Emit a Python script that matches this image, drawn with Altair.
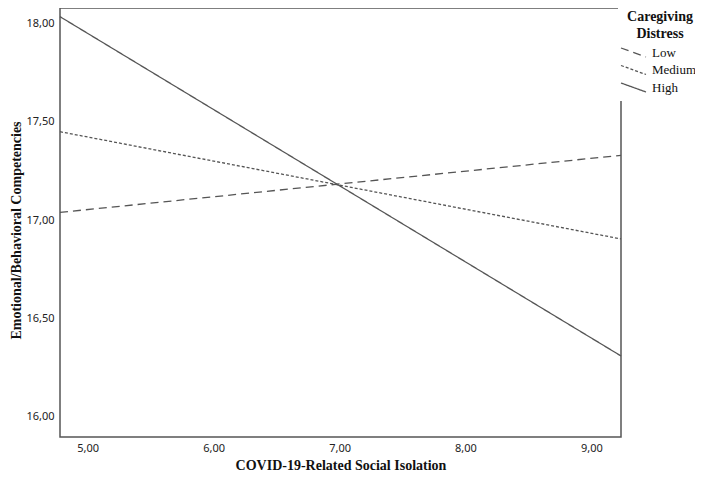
import altair as alt
import pandas as pd

groups = ["Low", "Medium", "High"]
isolation = [4.78, 9.235]
low_vals = [17.04, 17.33]
medium_vals = [17.45, 16.905]
high_vals = [18.035, 16.31]

x_ticks = [5, 6, 7, 8, 9]
y_ticks = [16.0, 16.5, 17.0, 17.5, 18.0]

rows = []
for g, vals in zip(groups, [low_vals, medium_vals, high_vals]):
    for x, y in zip(isolation, vals):
        rows.append({"iso": x, "comp": y, "group": g})
df = pd.DataFrame(rows)

fmt = "replace(format(datum.value, '.2f'), '.', ',')"

chart = alt.Chart(df).mark_line(color="#555555", strokeWidth=1.3).encode(
    x=alt.X(
        "iso:Q",
        scale=alt.Scale(domain=[4.78, 9.235], nice=False, zero=False),
        axis=alt.Axis(
            values=x_ticks, labelExpr=fmt, title="COVID-19-Related Social Isolation",
            titleFont="Liberation Serif", titleFontSize=14, titleFontWeight="bold",
            titleColor="#111111", titleY=28, titleBaseline="middle",
            labelFont="Noto Sans", labelFontSize=11, labelColor="#222222",
            labelPadding=5, ticks=False, domain=False, grid=False,
        ),
    ),
    y=alt.Y(
        "comp:Q",
        scale=alt.Scale(domain=[15.898, 18.079], nice=False, zero=False),
        axis=alt.Axis(
            values=y_ticks, labelExpr=fmt, title="Emotional/Behavioral Competencies",
            titleFont="Liberation Serif", titleFontSize=14, titleFontWeight="bold",
            titleColor="#111111", titleX=-44, titleY=222, titleBaseline="middle",
            titleAngle=270,
            labelFont="Noto Sans", labelFontSize=11, labelColor="#222222",
            labelPadding=6, ticks=False, domain=False, grid=False,
        ),
    ),
    strokeDash=alt.StrokeDash(
        "group:N",
        scale=alt.Scale(domain=groups, range=[[8, 5], [3, 2], [1, 0]]),
        legend=alt.Legend(
            title=["Caregiving", "Distress"],
            titleFont="Liberation Serif", titleFontSize=14, titleFontWeight="bold",
            titleColor="#111111", titleAnchor="middle", titleAlign="center",
            titleLineHeight=17, titlePadding=2,
            labelFont="Liberation Serif", labelFontSize=13, labelColor="#111111",
            labelOffset=9,
            symbolType="M-1.47,-0.53L1.47,0.53", symbolSize=289, symbolStrokeWidth=1.3,
            symbolStrokeColor="#555555", symbolFillColor="transparent",
            orient="none", legendX=558, legendY=-4,
            fillColor="white", padding=6, rowPadding=0.5,
        ),
    ),
).properties(
    width=561, height=429,
    padding={"left": 52, "top": 0, "right": 74, "bottom": 36},
    autosize="none",
).configure_view(stroke="#555555", strokeWidth=1.5)

chart.save("out.html", embed_options={"renderer": "svg", "actions": False})
